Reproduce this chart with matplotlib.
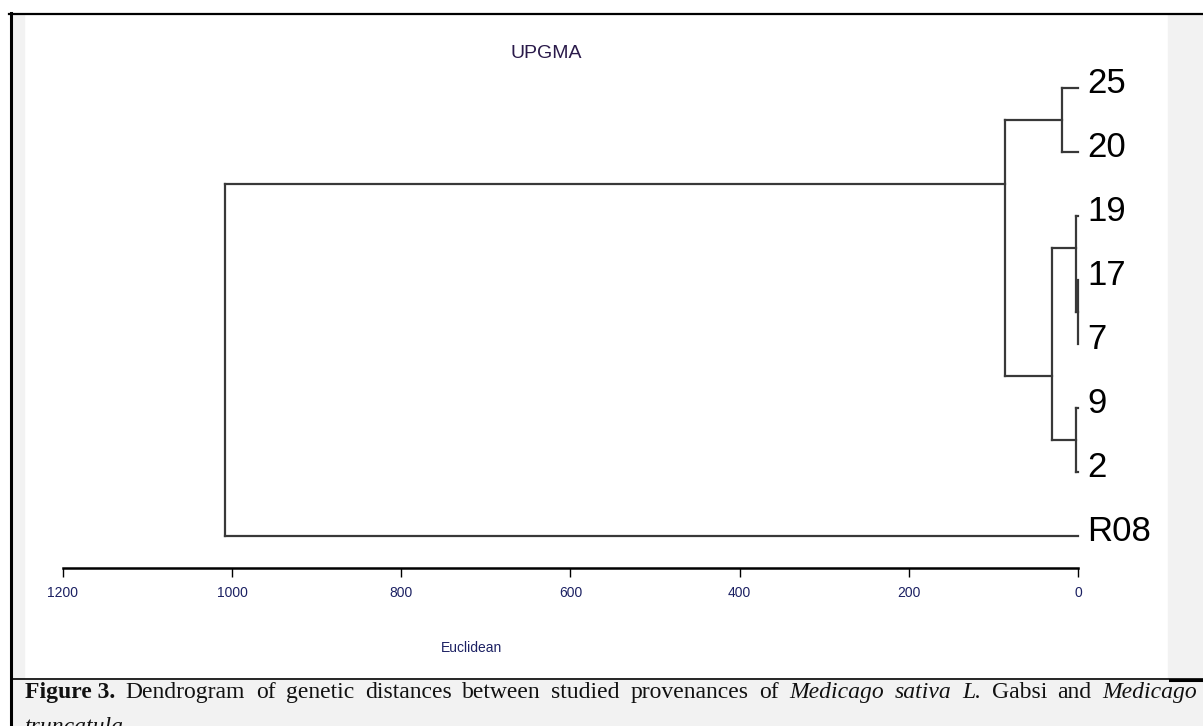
import matplotlib
matplotlib.use("Agg")
import matplotlib.pyplot as plt
from matplotlib.lines import Line2D
from matplotlib.patches import Rectangle
from matplotlib.transforms import offset_copy

# leaves, top to bottom
labels = ["25", "20", "19", "17", "7", "9", "2", "R08"]
# linkage: node ids 0..7 are the leaves, new nodes get 8, 9, ...
merge_left = [0, 3, 2, 5, 10, 8, 13]
merge_right = [1, 4, 9, 6, 11, 12, 7]
merge_height = [19.5, 0.5, 2.7, 2.7, 30.7, 86.0, 1009.0]

ticks = [1200, 1000, 800, 600, 400, 200, 0]
title = "UPGMA"
xlabel = "Euclidean"
caption_words = [
    ("Figure 3.", "bold", "normal"), ("Dendrogram", "normal", "normal"),
    ("of", "normal", "normal"), ("genetic", "normal", "normal"),
    ("distances", "normal", "normal"), ("between", "normal", "normal"),
    ("studied", "normal", "normal"), ("provenances", "normal", "normal"),
    ("of", "normal", "normal"), ("Medicago", "normal", "italic"),
    ("sativa", "normal", "italic"), ("L.", "normal", "italic"),
    ("Gabsi", "normal", "normal"), ("and", "normal", "normal"),
    ("Medicago", "normal", "italic"),
]
caption_line2 = "truncatula."

plt.rcParams["font.family"] = ["Liberation Sans", "DejaVu Sans"]

W, H = 1203, 726
fig = plt.figure(figsize=(W / 100, H / 100), dpi=100)
fig.patch.set_facecolor("white")


def fx(x):
    return x / W


def fy(y):
    return 1 - y / H


grey = "#f2f2f2"
# page decoration: grey strips and caption box
fig.patches.append(Rectangle((fx(12), fy(678)), fx(12), 664 / H, transform=fig.transFigure, color=grey, zorder=0))
fig.patches.append(Rectangle((fx(1168), fy(678)), fx(W - 1168), 664 / H, transform=fig.transFigure, color=grey, zorder=0))
fig.patches.append(Rectangle((fx(12), 0), fx(W - 12), fy(680), transform=fig.transFigure, color=grey, zorder=0))
fig.lines.append(Line2D([fx(9), 1], [fy(13.5), fy(13.5)], transform=fig.transFigure, color="black", lw=1.6))
fig.lines.append(Line2D([fx(10.5), fx(10.5)], [fy(13), 0], transform=fig.transFigure, color="black", lw=2.2))
fig.lines.append(Line2D([fx(12), 1], [fy(679), fy(679)], transform=fig.transFigure, color="black", lw=1.2))
fig.lines.append(Line2D([fx(1170), 1], [fy(679.5), fy(679.5)], transform=fig.transFigure, color="black", lw=2.2))

ax = fig.add_axes([fx(24), fy(678), (1168 - 24) / W, (678 - 14) / H])
ax.set_facecolor("white")
ax.set_xlim(1246.1, -106.4)
ax.set_ylim(9.219, -1.156)

# node positions: leaf y = index, inner node y = boundary between its children
n = len(labels)
ypos = {i: float(i) for i in range(n)}
height = {i: 0.0 for i in range(n)}
first_leaf = {i: i for i in range(n)}
for k, (a, b, h) in enumerate(zip(merge_left, merge_right, merge_height)):
    node = n + k
    for c in (a, b):
        ax.plot([height[c], h], [ypos[c], ypos[c]], color="#383838", lw=1.6,
                solid_capstyle="projecting")
    ax.plot([h, h], [ypos[a], ypos[b]], color="#383838", lw=1.6, solid_capstyle="projecting")
    height[node] = h
    first_leaf[node] = first_leaf[a]
    ypos[node] = first_leaf[b] - 0.5

leaf_tr = offset_copy(ax.transData, fig=fig, x=9, y=-5, units="dots")
for i, lab in enumerate(labels):
    ax.text(0, i, lab, transform=leaf_tr, ha="left", va="baseline", fontsize=25, color="black")

for s in ("top", "left", "right"):
    ax.spines[s].set_visible(False)
ax.spines["bottom"].set_position(("data", 7.5))
ax.spines["bottom"].set_bounds(0, 1200)
ax.spines["bottom"].set_linewidth(1.8)
ax.set_xticks(ticks)
ax.set_xticklabels([str(t) for t in ticks])
ax.tick_params(axis="x", direction="out", length=6.5, width=1, pad=6.5,
               labelsize=10, labelcolor="#1c2163", color="black")
ax.set_yticks([])

fig.text(fx(546), fy(57.5), title, ha="center", va="baseline", fontsize=14, color="#2a1a4a")
fig.text(fx(472), fy(652.5), xlabel, ha="center", va="baseline", fontsize=10, color="#1c2163")

# justified caption line
renderer = fig.canvas.get_renderer()
texts = []
for w, weight, style in caption_words:
    t = fig.text(0, fy(698), w, ha="left", va="baseline", fontsize=17,
                 family="Liberation Serif", weight=weight, style=style, color="#111111")
    texts.append(t)
widths = [t.get_window_extent(renderer).width for t in texts]
x0, x1 = 25, 1197
gap = (x1 - x0 - sum(widths)) / (len(texts) - 1)
x = x0
for t, w in zip(texts, widths):
    t.set_x(fx(x))
    x += w + gap
fig.text(fx(25), fy(733), caption_line2, ha="left", va="baseline", fontsize=17,
         family="Liberation Serif", style="italic", color="#111111")

fig.savefig("out.png", dpi=100)
